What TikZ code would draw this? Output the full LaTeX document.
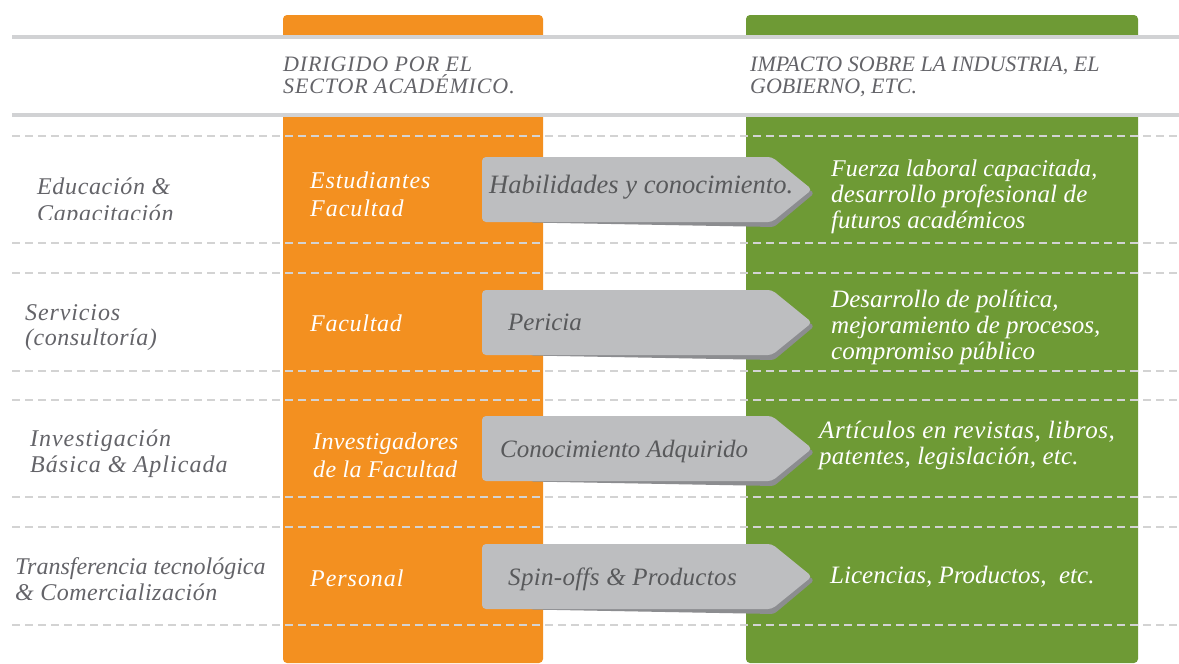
\documentclass[tikz,border=0pt]{standalone}
\usepackage{fontspec}
\setmainfont{Liberation Serif}
\newfontfamily\serifit{Liberation Serif Italic}
\newcommand\fsz[2]{\serifit\fontsize{#1}{#1}\selectfont\addfontfeatures{LetterSpace=#2}}
\definecolor{orangec}{HTML}{F39020}
\definecolor{greenc}{HTML}{6E9A35}
\definecolor{arrowg}{HTML}{BDBEC0}
\definecolor{shadowg}{HTML}{8C8D90}
\definecolor{lineg}{HTML}{D1D2D4}
\definecolor{dashg}{HTML}{D3D3D3}
\definecolor{txtg}{HTML}{646469}
\definecolor{txtd}{HTML}{58595B}
\begin{document}
\begin{tikzpicture}[x=1pt,y=-1pt,
  txt/.style={anchor=base west, inner sep=0pt},
  headtxt/.style={txt, font=\fsz{22}{#1}, text=txtg},
  headtxt/.default=0,
  rowlbl/.style={txt, font=\fsz{24}{#1}, text=txtg},
  rowlbl/.default=0,
  whitetxt/.style={txt, font=\fsz{24}{#1}, text=white},
  whitetxt/.default=0,
  greentxt/.style={txt, font=\fsz{25}{#1}, text=white},
  greentxt/.default=0,
  flowtxt/.style={txt, font=\fsz{25}{#1}, text=txtd},
  flowtxt/.default=0,
  solidline/.style={draw=lineg, line width=4.5pt},
  dashline/.style={draw=dashg, line width=2pt, dash pattern=on 8pt off 5pt},
  colbox/.style={rounded corners=4pt},
  flowbody/.style={fill=arrowg, rounded corners=4pt},
  flowshadow/.style={fill=shadowg, rounded corners=3pt}]
\useasboundingbox (0,0) rectangle (1179,664);
\fill[white] (0,0) rectangle (1179,664);
% columns
\fill[orangec, colbox] (283,15) rectangle (543,663);
\fill[greenc, colbox] (746,15) rectangle (1138,663);
% header band
\fill[white] (0,37) rectangle (1179,115);
\draw[solidline] (12,37) -- (1179,37);
\draw[solidline] (12,115) -- (1179,115);
% dashed row separators
\foreach \yy in {136,243,273,371,400,497,527,625}{
  \draw[dashline] (12,\yy) -- (1179,\yy);
}
% header texts
\node[headtxt=4] (h1a) at (283,71) {DIRIGIDO POR EL};
\node[headtxt=4] (h1b) at (283,93) {SECTOR ACADÉMICO.};
\node[headtxt] (h2a) at (750,71) {IMPACTO SOBRE LA INDUSTRIA, EL};
\node[headtxt] (h2b) at (750,93) {GOBIERNO, ETC.};
% flow arrows
\foreach \nm/\tp in {fa/157,fb/290,fc/416,fd/544}{
  \pgfmathsetmacro{\bt}{\tp+65}
  \pgfmathsetmacro{\md}{\tp+32.5}
  \fill[flowshadow] (530,\bt-12) -- (810,\md) -- (814,\md+4) -- (774,\bt+5) -- (530,\bt+0.5) -- cycle;
  \fill[flowbody] (482,\tp) -- (772,\tp) -- (812,\md) -- (772,\bt) -- (482,\bt) -- cycle;
  \coordinate (\nm) at (482,\tp);
}
% row labels (left)
\begin{scope}
  \clip (0,136) rectangle (283,219);
  \node[rowlbl=2.7] (r1a) at (37,194) {Educación \&};
  \node[rowlbl=2.7] (r1b) at (37,221) {Capacitación};
\end{scope}
\node[rowlbl=3.7] (r2a) at (25,320) {Servicios};
\node[rowlbl=2.2] (r2b) at (25,345) {(consultoría)};
\node[rowlbl=4] (r3a) at (30,446) {Investigación};
\node[rowlbl=4.4] (r3b) at (30,472) {Básica \& Aplicada};
\node[rowlbl] (r4a) at (15,574) {Transferencia tecnológica};
\node[rowlbl=2] (r4b) at (15,600) {\& Comercialización};
% orange column texts
\node[whitetxt=3.4] (o1a) at (310,188) {Estudiantes};
\node[whitetxt=4] (o1b) at (310,216) {Facultad};
\node[whitetxt=3] (o2) at (310,331) {Facultad};
\node[whitetxt=1.5] (o3a) at (313,449) {Investigadores};
\node[whitetxt=1.5] (o3b) at (313,477) {de la Facultad};
\node[whitetxt=4] (o4) at (310,586) {Personal};
% flow texts
\node[txt, font=\fsz{26.5}{0}, text=txtd] (f1) at (489,193) {Habilidades y conocimiento.};
\node[flowtxt] (f2) at (508,330) {Pericia};
\node[flowtxt] (f3) at (500,457) {Conocimiento Adquirido};
\node[flowtxt=1.3] (f4) at (508,585) {Spin-offs \& Productos};
% green column texts
\node[txt, font=\fsz{24}{0.5}, text=white] (g1a) at (831,176) {Fuerza laboral capacitada,};
\node[greentxt=0.7] (g1b) at (831,202) {desarrollo profesional de};
\node[greentxt] (g1c) at (831,228) {futuros académicos};
\node[greentxt] (g2a) at (831,307) {Desarrollo de política,};
\node[greentxt] (g2b) at (831,333) {mejoramiento de procesos,};
\node[greentxt] (g2c) at (831,359) {compromiso público};
\node[greentxt=2.3] (g3a) at (819,438) {Artículos en revistas, libros,};
\node[greentxt=1] (g3b) at (819,464) {patentes, legislación, etc.};
\node[greentxt] (g4) at (830,583) {Licencias, Productos,\ \ etc.};
\end{tikzpicture}
\end{document}
